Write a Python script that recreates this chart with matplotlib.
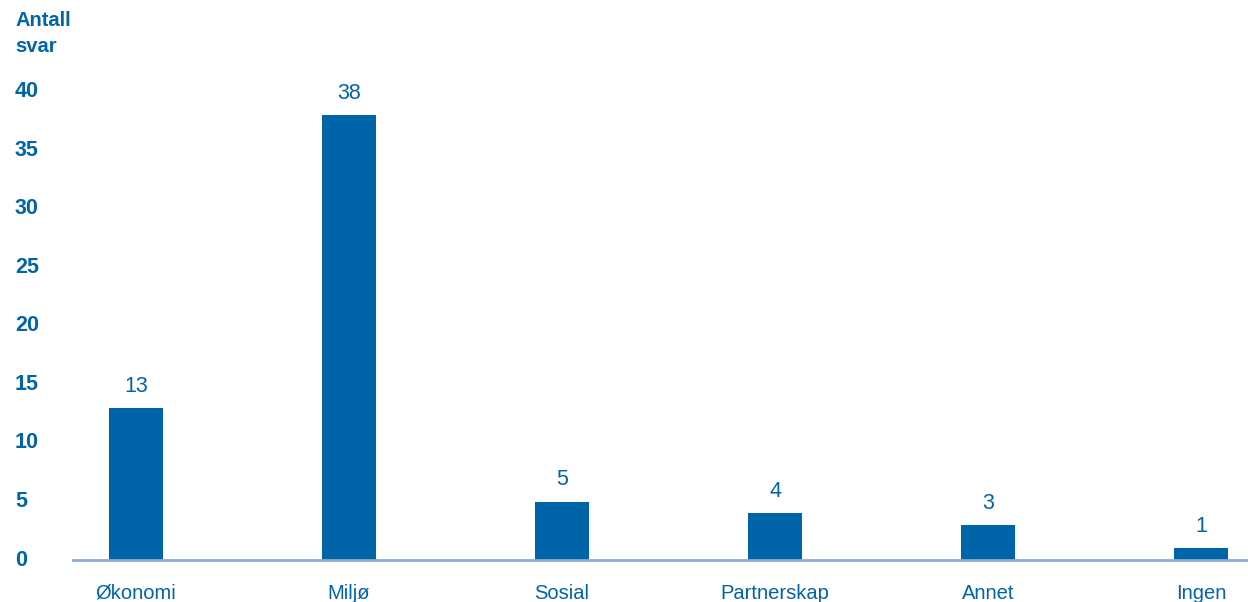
import matplotlib
matplotlib.use("Agg")
import matplotlib.pyplot as plt
import matplotlib.transforms as mtransforms

categories = ["Økonomi", "Miljø", "Sosial", "Partnerskap", "Annet", "Ingen"]
values = [13, 38, 5, 4, 3, 1]
yticks = [0, 5, 10, 15, 20, 25, 30, 35, 40]
ylabel = "Antall\nsvar"

BLUE = "#0064a8"
AXIS = "#8eabd2"
plt.rcParams['font.family'] = ['Liberation Sans', 'DejaVu Sans']

W, H = 1248, 602
fig = plt.figure(figsize=(W / 100, H / 100), dpi=100)
ax = fig.add_axes([73 / W, 1 - 560 / H, 1 - 73 / W, (560 - 92) / H])

x = list(range(len(categories)))
ax.bar(x, values, width=0.25, color=BLUE, zorder=2)
for xi, v in zip(x, values):
    ax.annotate(str(v), (xi, v), xytext=(0, 8), textcoords="offset points",
                ha="center", va="bottom", fontsize=15.5, color=BLUE)

ax.set_xlim((73 - 136) / 213, (1248 - 136) / 213)
ax.set_ylim(0, 40)
for s in ["top", "right", "left"]:
    ax.spines[s].set_visible(False)
ax.spines["bottom"].set_color(AXIS)
ax.spines["bottom"].set_linewidth(2)
ax.set_xticks(x)
ax.set_xticklabels(categories, fontsize=14.5, color=BLUE)
ax.tick_params(axis="x", length=0, pad=17)
ax.set_yticks([])

trans = mtransforms.blended_transform_factory(fig.transFigure, ax.transData)
for t in yticks:
    fig.text(15 / W, t, str(t), transform=trans, ha="left", va="center",
             fontsize=15.5, fontweight="bold", color=BLUE)

fig.text(15 / W, 1 - 11 / H, ylabel, ha="left", va="top", fontsize=14.5,
         fontweight="bold", color=BLUE, linespacing=1.45)

fig.savefig("out.png", dpi=100)
